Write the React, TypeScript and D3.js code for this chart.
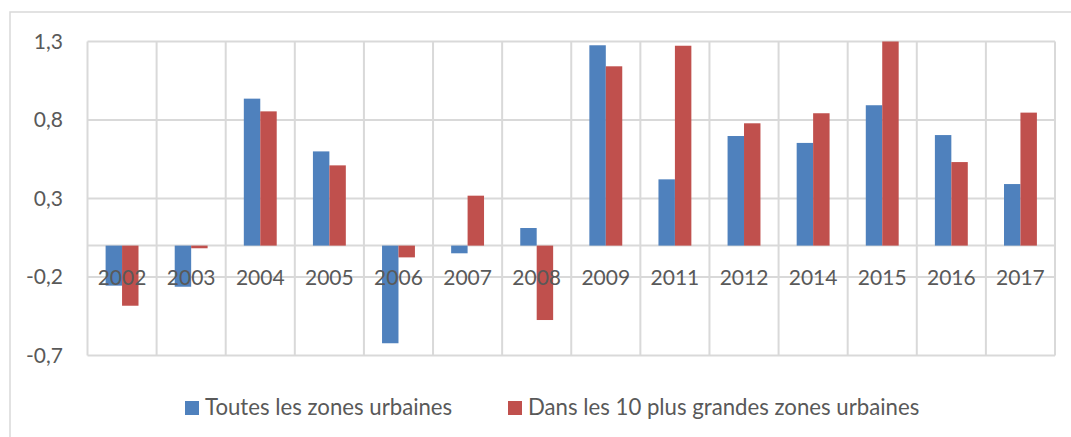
import React from "react";
import * as d3 from "d3";

const categories = [
  "2002", "2003", "2004", "2005", "2006", "2007", "2008",
  "2009", "2011", "2012", "2014", "2015", "2016", "2017",
];
const toutesZones = [
  -0.255, -0.262, 0.936, 0.6, -0.622, -0.049, 0.112,
  1.276, 0.422, 0.698, 0.654, 0.894, 0.704, 0.392,
];
const grandesZones = [
  -0.383, -0.017, 0.855, 0.511, -0.075, 0.318, -0.474,
  1.142, 1.273, 0.779, 0.843, 1.3, 0.532, 0.847,
];
const yTicks = [1.3, 0.8, 0.3, -0.2, -0.7];
const seriesNames = ["Toutes les zones urbaines", "Dans les 10 plus grandes zones urbaines"];

const W = 1071;
const H = 437;
const FONT = "Lato, 'Open Sans', sans-serif";
const TEXT = "#595959";
const GRID = "#d9d9d9";
const BLUE = "#4f81bd";
const RED = "#c0504d";

export default function App() {
  const plot = { left: 87.5, right: 1055, top: 41.5, bottom: 355.5 };
  const x = d3.scaleBand<string>().domain(categories).range([plot.left, plot.right]);
  const y = d3.scaleLinear().domain([-0.7, 1.3]).range([plot.bottom, plot.top]);
  const bw = x.bandwidth() * 0.238;
  const fmt = (v: number) => d3.format(".1f")(v).replace(".", ",").replace("−", "-");
  const series = [
    { name: seriesNames[0], values: toutesZones, color: BLUE },
    { name: seriesNames[1], values: grandesZones, color: RED },
  ];
  const y0 = y(0);

  return (
    <svg
      width={W}
      height={H}
      style={{ position: "absolute", left: 0, top: 0, background: "#fff" }}
      fontFamily={FONT}
    >
      <rect x={10} y={12} width={W + 20} height={H + 20} fill="#fff" stroke={GRID} strokeWidth={1.5} />

      {/* gridlines */}
      {yTicks.map((t) => (
        <line key={t} x1={plot.left} x2={plot.right} y1={y(t)} y2={y(t)} stroke={GRID} strokeWidth={2} />
      ))}
      {categories.map((c) => (
        <line key={c} x1={x(c)!} x2={x(c)!} y1={plot.top} y2={plot.bottom} stroke={GRID} strokeWidth={2} />
      ))}
      <line x1={plot.right} x2={plot.right} y1={plot.top} y2={plot.bottom} stroke={GRID} strokeWidth={2} />
      <line x1={plot.left} x2={plot.right} y1={y0} y2={y0} stroke={GRID} strokeWidth={2} />

      {/* bars */}
      {series.map((s, si) =>
        s.values.map((v, i) => {
          const cx = x(categories[i])! + x.bandwidth() / 2;
          const bx = cx - bw + si * bw;
          return (
            <rect
              key={`${si}-${i}`}
              x={bx}
              y={Math.min(y(v), y0)}
              width={bw}
              height={Math.abs(y(v) - y0)}
              fill={s.color}
            />
          );
        })
      )}

      {/* y axis labels */}
      {yTicks.map((t) => (
        <text key={t} x={63} y={y(t) + 7} textAnchor="end" fontSize={21} fill={TEXT}>
          {fmt(t)}
        </text>
      ))}

      {/* category labels */}
      {categories.map((c) => (
        <text key={c} x={x(c)! + x.bandwidth() / 2} y={285} textAnchor="middle" fontSize={21} fill={TEXT}>
          {c}
        </text>
      ))}

      {/* legend */}
      <rect x={185} y={401} width={14} height={14} fill={BLUE} />
      <text x={205} y={414.5} fontSize={22.2} fill={TEXT}>{series[0].name}</text>
      <rect x={508} y={401} width={14} height={14} fill={RED} />
      <text x={528} y={414.5} fontSize={22.2} fill={TEXT}>{series[1].name}</text>
    </svg>
  );
}
